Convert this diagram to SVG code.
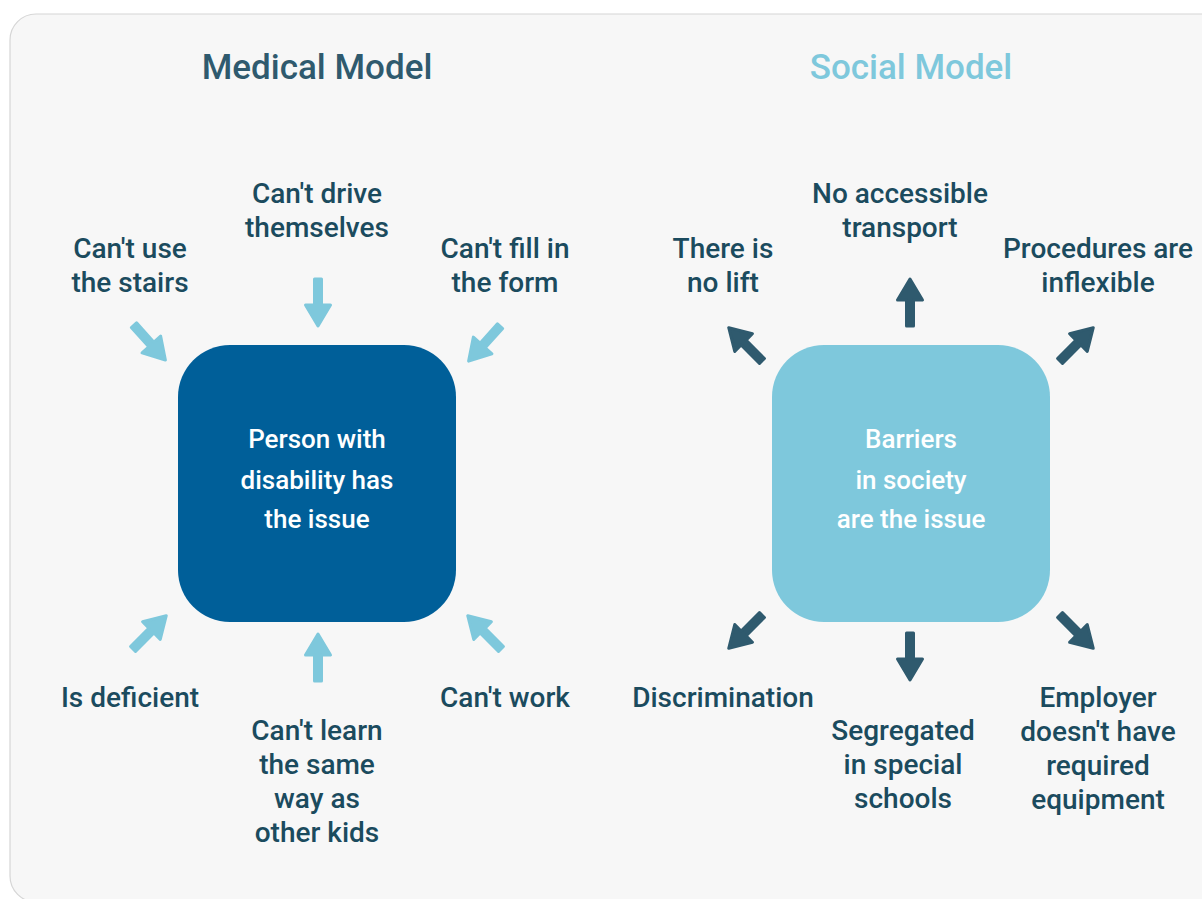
<svg xmlns="http://www.w3.org/2000/svg" width="1202" height="899" viewBox="0 0 1202 899">
<style>
.lbl{font-family:Roboto,"Liberation Sans",sans-serif;font-weight:500;font-size:28px;fill:#1b4b5e;text-anchor:middle}
.title{font-family:Roboto,"Liberation Sans",sans-serif;font-weight:500;font-size:35px;text-anchor:middle}
.in{font-family:Roboto,"Liberation Sans",sans-serif;font-weight:500;font-size:26px;fill:#ffffff;text-anchor:middle}
.light{fill:#7ec8dc;stroke:#7ec8dc}
.dark{fill:#2f5a6e;stroke:#2f5a6e}
</style>
<defs>
<path id="arr" d="M-24,-3.5 L2,-3.5 L2,-12.5 L23,0 L2,12.5 L2,3.5 L-24,3.5 Z" stroke-width="3" stroke-linejoin="round"/>
</defs>
<rect x="0" y="0" width="1202" height="899" fill="#ffffff"/>
<rect x="10" y="14" width="1225" height="888" rx="26" fill="#f7f7f7" stroke="#d6d6d6" stroke-width="1.2"/>
<text class="title" x="317" y="79" fill="#2f5a6e">Medical Model</text>
<text class="title" x="911" y="79" fill="#7ec8dc">Social Model</text>
<g id="connectors">
<use href="#arr" class="light" transform="translate(150,343) rotate(48)"/>
<use href="#arr" class="light" transform="translate(318,303) rotate(90)"/>
<use href="#arr" class="light" transform="translate(484,344) rotate(132)"/>
<use href="#arr" class="light" transform="translate(150,632) rotate(-45)"/>
<use href="#arr" class="light" transform="translate(318,657) rotate(-90)"/>
<use href="#arr" class="light" transform="translate(484,632) rotate(-135)"/>
<use href="#arr" class="dark" transform="translate(745,344) rotate(-135)"/>
<use href="#arr" class="dark" transform="translate(910,302) rotate(-90)"/>
<use href="#arr" class="dark" transform="translate(1077,344) rotate(-45)"/>
<use href="#arr" class="dark" transform="translate(745,632) rotate(135)"/>
<use href="#arr" class="dark" transform="translate(910,657) rotate(90)"/>
<use href="#arr" class="dark" transform="translate(1077,632) rotate(45)"/>
</g>
<g id="medical">
<rect x="178" y="345" width="278" height="277" rx="52" fill="#005f99"/>
<text class="in" x="317" y="448">Person with</text>
<text class="in" x="317" y="489">disability has</text>
<text class="in" x="317" y="528">the issue</text>
</g>
<g id="social">
<rect x="772" y="345" width="278" height="277" rx="52" fill="#7ec8dc"/>
<text class="in" x="911" y="448">Barriers</text>
<text class="in" x="911" y="489">in society</text>
<text class="in" x="911" y="528">are the issue</text>
</g>
<g id="m-stairs"><text class="lbl" x="130" y="258">Can't use</text><text class="lbl" x="130" y="292">the stairs</text></g>
<g id="m-drive"><text class="lbl" x="317" y="203">Can't drive</text><text class="lbl" x="317" y="237">themselves</text></g>
<g id="m-form"><text class="lbl" x="505" y="258">Can't fill in</text><text class="lbl" x="505" y="292">the form</text></g>
<g id="m-deficient"><text class="lbl" x="130" y="707">Is deficient</text></g>
<g id="m-learn"><text class="lbl" x="317" y="740">Can't learn</text><text class="lbl" x="317" y="774">the same</text><text class="lbl" x="317" y="808">way as</text><text class="lbl" x="317" y="842">other kids</text></g>
<g id="m-work"><text class="lbl" x="505" y="707">Can't work</text></g>
<g id="s-lift"><text class="lbl" x="723" y="258">There is</text><text class="lbl" x="723" y="292">no lift</text></g>
<g id="s-transport"><text class="lbl" x="900" y="203">No accessible</text><text class="lbl" x="900" y="237">transport</text></g>
<g id="s-procedures"><text class="lbl" x="1098" y="258">Procedures are</text><text class="lbl" x="1098" y="292">inflexible</text></g>
<g id="s-discrimination"><text class="lbl" x="723" y="707">Discrimination</text></g>
<g id="s-segregated"><text class="lbl" x="903" y="740">Segregated</text><text class="lbl" x="903" y="774">in special</text><text class="lbl" x="903" y="808">schools</text></g>
<g id="s-employer"><text class="lbl" x="1098" y="707">Employer</text><text class="lbl" x="1098" y="741">doesn't have</text><text class="lbl" x="1098" y="775">required</text><text class="lbl" x="1098" y="809">equipment</text></g>
</svg>
